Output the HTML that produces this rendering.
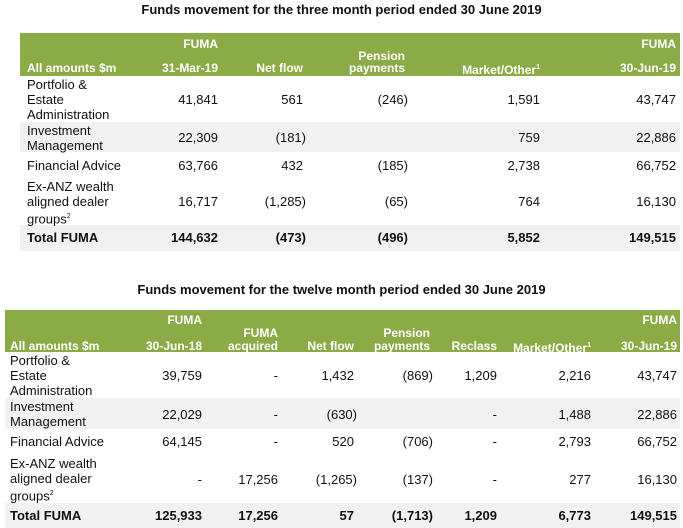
<!DOCTYPE html>
<html><head><meta charset="utf-8"><style>
body{margin:0;width:683px;height:528px;background:#fff;position:relative;font-family:"Liberation Sans",Arial,sans-serif;overflow:hidden}
.a{position:absolute;white-space:nowrap}
.title{font-weight:bold;font-size:13px;color:#111;left:0;width:683px;text-align:center}
.hdr{position:absolute;background:#8aab45}
.row{position:absolute;background:#f1f1f1}
.h{color:#fff;font-weight:bold;font-size:12px;text-align:right;line-height:14px}
.c{font-size:13px;color:#111;text-align:right;line-height:15px}
.l{font-size:13px;color:#111;line-height:15px}
.b{font-weight:bold}
sup{font-size:7px}
</style></head><body>
<div class="a title" style="top:2px">Funds movement for the three month period ended 30 June 2019</div>
<div class="hdr" style="left:20px;top:33px;width:660px;height:43px"></div>
<div class="row" style="left:20px;top:122px;width:660px;height:30px"></div>
<div class="row" style="left:20px;top:225px;width:660px;height:26px"></div>

<div class="a title" style="top:282px">Funds movement for the twelve month period ended 30 June 2019</div>
<div class="hdr" style="left:5px;top:310px;width:675px;height:42px"></div>
<div class="row" style="left:5px;top:398px;width:675px;height:31px"></div>
<div class="row" style="left:5px;top:503px;width:675px;height:25px"></div>

<script>
function put(cls,html,x,y,right,name){
  var d=document.createElement('div');
  d.className='a '+cls;
  d.innerHTML=html;
  if(right){d.style.right=(683-x)+'px';}else{d.style.left=x+'px';}
  d.style.top=y+'px';
  
  
  document.body.appendChild(d);
}
// Table 1
var t1cols=[218,303,405,540,676];
var t1head=[['FUMA','','31-Mar-19'],['','','Net flow'],['','Pension','payments'],['','','Market/Other<sup>1</sup>'],['FUMA','','30-Jun-19']];
var t1labels=['Portfolio &amp;<br>Estate<br>Administration','Investment<br>Management','Financial Advice','Ex-ANZ wealth<br>aligned dealer<br>groups<sup>2</sup>'];
var t1rowsY=[76,122,152,178];
var t1labelY=[77,123,158,179];
var t1valY=[92,130,158,194];
var t1vals=[['41,841','561','(246)','1,591','43,747'],['22,309','(181)','','759','22,886'],['63,766','432','(185)','2,738','66,752'],['16,717','(1,285)','(65)','764','16,130']];
var t1tot=['144,632','(473)','(496)','5,852','149,515'];
put('h','All amounts $m',27,61,false,'t1-header-label');
t1head.forEach(function(h,i){
  var adj=h[2].charAt(h[2].length-1)===')'?2:0;
  if(h[0])put('h',h[0],t1cols[i],37,true,'t1-header-top');
  if(h[1])put('h',h[1],t1cols[i],49,true,'t1-header-mid');
  put('h',h[2],t1cols[i],61,true,'t1-header-col');
});
t1labels.forEach(function(l,r){put('l',l,27,t1labelY[r],false,'t1-row-label');});
t1vals.forEach(function(row,r){row.forEach(function(v,i){
  var off=v.charAt(0)==='('?3:0;
  if(v)put('c',v,t1cols[i]+off,t1valY[r],true,'t1-cell');
});});
put('l b','Total FUMA',27,230,false,'t1-total-label');
t1tot.forEach(function(v,i){var off=v.charAt(0)==='('?3:0;put('c b',v,t1cols[i]+off,230,true,'t1-total-cell');});

// Table 2
var t2cols=[202,278,354,430,497,591,677];
var t2head=[['FUMA','','30-Jun-18'],['','FUMA','acquired'],['','','Net flow'],['','Pension','payments'],['','','Reclass'],['','','Market/Other<sup>1</sup>'],['FUMA','','30-Jun-19']];
var t2labels=['Portfolio &amp;<br>Estate<br>Administration','Investment<br>Management','Financial Advice','Ex-ANZ wealth<br>aligned dealer<br>groups<sup>2</sup>'];
var t2labelY=[353,399,434,456];
var t2valY=[368,407,434,472];
var t2vals=[['39,759','-','1,432','(869)','1,209','2,216','43,747'],['22,029','-','(630)','','-','1,488','22,886'],['64,145','-','520','(706)','-','2,793','66,752'],['-','17,256','(1,265)','(137)','-','277','16,130']];
var t2tot=['125,933','17,256','57','(1,713)','1,209','6,773','149,515'];
put('h','All amounts $m',10,339,false,'t2-header-label');
t2head.forEach(function(h,i){
  if(h[0])put('h',h[0],t2cols[i],313,true,'t2-header-top');
  if(h[1])put('h',h[1],t2cols[i],326,true,'t2-header-mid');
  put('h',h[2],t2cols[i],339,true,'t2-header-col');
});
t2labels.forEach(function(l,r){put('l',l,10,t2labelY[r],false,'t2-row-label');});
t2vals.forEach(function(row,r){row.forEach(function(v,i){
  var off=v.charAt(0)==='('?3:0;
  if(v)put('c',v,t2cols[i]+off,t2valY[r],true,'t2-cell');
});});
put('l b','Total FUMA',10,508,false,'t2-total-label');
t2tot.forEach(function(v,i){var off=v.charAt(0)==='('?3:0;put('c b',v,t2cols[i]+off,508,true,'t2-total-cell');});
</script>
</body></html>
